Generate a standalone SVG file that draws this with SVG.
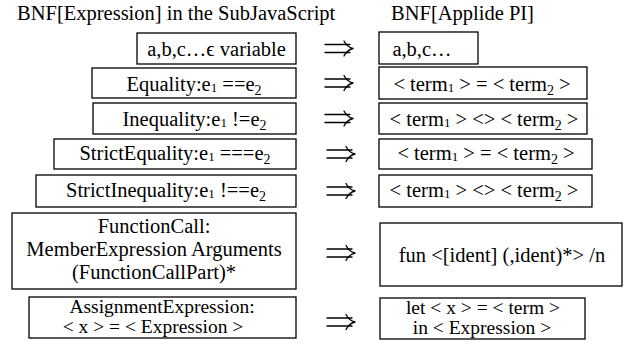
<svg xmlns="http://www.w3.org/2000/svg" width="626" height="351" viewBox="0 0 626 351">
  <style>
    text { font-family: "Liberation Serif", "Times New Roman", serif; font-size: 20.5px; fill: #000; }
    .c { text-anchor: middle; }
    .tight { font-size: 19.5px; }
    .box { fill: #fff; stroke: #000; stroke-width: 1.3; }
    .s1 { font-size: 13px; }
    .s2 { font-size: 14px; }
    .arrow { fill: none; stroke: #000; stroke-width: 1.3; stroke-linecap: round; stroke-linejoin: round; }
  </style>
  <defs>
    <!-- double-line implication arrow, drawn around (0,0) -->
    <g id="implies">
      <path class="arrow" d="M0,-4 H25 M0,4 H25"/>
      <path class="arrow" d="M19,-7.5 Q22,-1.5 28,0 Q22,1.5 19,7.5"/>
    </g>
  </defs>

  <rect width="626" height="351" fill="#fff"/>

  <!-- column headings -->
  <text id="title-left" x="17" y="20">BNF[Expression] in the SubJavaScript</text>
  <text id="title-right" x="391" y="20">BNF[Applide PI]</text>

  <!-- SubJavaScript grammar -->
  <g id="js-variable">
    <rect class="box" x="137" y="33" width="159" height="31"/>
    <text class="c" x="216.5" y="56">a,b,c…ϵ variable</text>
  </g>
  <g id="js-equality">
    <rect class="box" x="92" y="68" width="204" height="30"/>
    <text class="c" x="194" y="91">Equality:e<tspan class="s1" dy="1">1</tspan><tspan dy="-1"> ==e</tspan><tspan class="s2" dy="4">2</tspan></text>
  </g>
  <g id="js-inequality">
    <rect class="box" x="93" y="103" width="203" height="31"/>
    <text class="c" x="194.5" y="126">Inequality:e<tspan class="s1" dy="1">1</tspan><tspan dy="-1"> !=e</tspan><tspan class="s2" dy="4">2</tspan></text>
  </g>
  <g id="js-strict-equality">
    <rect class="box" x="54" y="139" width="242" height="30"/>
    <text class="c" x="175" y="160">StrictEquality:e<tspan class="s1" dy="1">1</tspan><tspan dy="-1"> ===e</tspan><tspan class="s2" dy="4">2</tspan></text>
  </g>
  <g id="js-strict-inequality">
    <rect class="box" x="36" y="175" width="260" height="32"/>
    <text class="c" x="166" y="197">StrictInequality:e<tspan class="s1" dy="1">1</tspan><tspan dy="-1"> !==e</tspan><tspan class="s2" dy="4">2</tspan></text>
  </g>
  <g id="js-function-call">
    <rect class="box" x="12" y="213" width="284" height="76"/>
    <text class="c" x="154" y="233">FunctionCall:</text>
    <text class="c" x="154" y="256">MemberExpression Arguments</text>
    <text class="c" x="154" y="279">(FunctionCallPart)*</text>
  </g>
  <g id="js-assignment">
    <rect class="box" x="29" y="297" width="267" height="41"/>
    <text class="c tight" x="162" y="313">AssignmentExpression:</text>
    <text class="c tight" x="153" y="332.5">&lt; x &gt; = &lt; Expression &gt;</text>
  </g>

  <!-- Applide PI grammar -->
  <g id="pi-variable">
    <rect class="box" x="379" y="32" width="99" height="32"/>
    <text class="c" x="422" y="56">a,b,c…</text>
  </g>
  <g id="pi-equality">
    <rect class="box" x="379" y="67" width="208" height="32"/>
    <text class="c" x="482" y="91">&lt; term<tspan class="s1" dy="1">1</tspan><tspan dy="-1"> &gt; = &lt; term</tspan><tspan class="s2" dy="4">2</tspan><tspan dy="-4"> &gt;</tspan></text>
  </g>
  <g id="pi-inequality">
    <rect class="box" x="379" y="103" width="208" height="31"/>
    <text class="c" x="484" y="126">&lt; term<tspan class="s1" dy="1">1</tspan><tspan dy="-1"> &gt; &lt;&gt; &lt; term</tspan><tspan class="s2" dy="4">2</tspan><tspan dy="-4"> &gt;</tspan></text>
  </g>
  <g id="pi-strict-equality">
    <rect class="box" x="379" y="139" width="213" height="30"/>
    <text class="c" x="486" y="160">&lt; term<tspan class="s1" dy="1">1</tspan><tspan dy="-1"> &gt; = &lt; term</tspan><tspan class="s2" dy="4">2</tspan><tspan dy="-4"> &gt;</tspan></text>
  </g>
  <g id="pi-strict-inequality">
    <rect class="box" x="379" y="175" width="213" height="32"/>
    <text class="c" x="484" y="197">&lt; term<tspan class="s1" dy="1">1</tspan><tspan dy="-1"> &gt; &lt;&gt; &lt; term</tspan><tspan class="s2" dy="4">2</tspan><tspan dy="-4"> &gt;</tspan></text>
  </g>
  <g id="pi-function">
    <rect class="box" x="380" y="223" width="242" height="63"/>
    <text class="c" x="502" y="262">fun &lt;[ident] (,ident)*&gt; /n</text>
  </g>
  <g id="pi-let">
    <rect class="box" x="380" y="298" width="205" height="41"/>
    <text class="c tight" x="483" y="314">let &lt; x &gt; = &lt; term &gt;</text>
    <text class="c tight" x="482" y="333.5">in &lt; Expression &gt;</text>
  </g>

  <!-- translation arrows -->
  <g id="connectors">
    <use href="#implies" x="325" y="48.5"/>
    <use href="#implies" x="325" y="83"/>
    <use href="#implies" x="325" y="118.5"/>
    <use href="#implies" x="327" y="154"/>
    <use href="#implies" x="327" y="191"/>
    <use href="#implies" x="327" y="253"/>
    <use href="#implies" x="327" y="322"/>
  </g>
</svg>
